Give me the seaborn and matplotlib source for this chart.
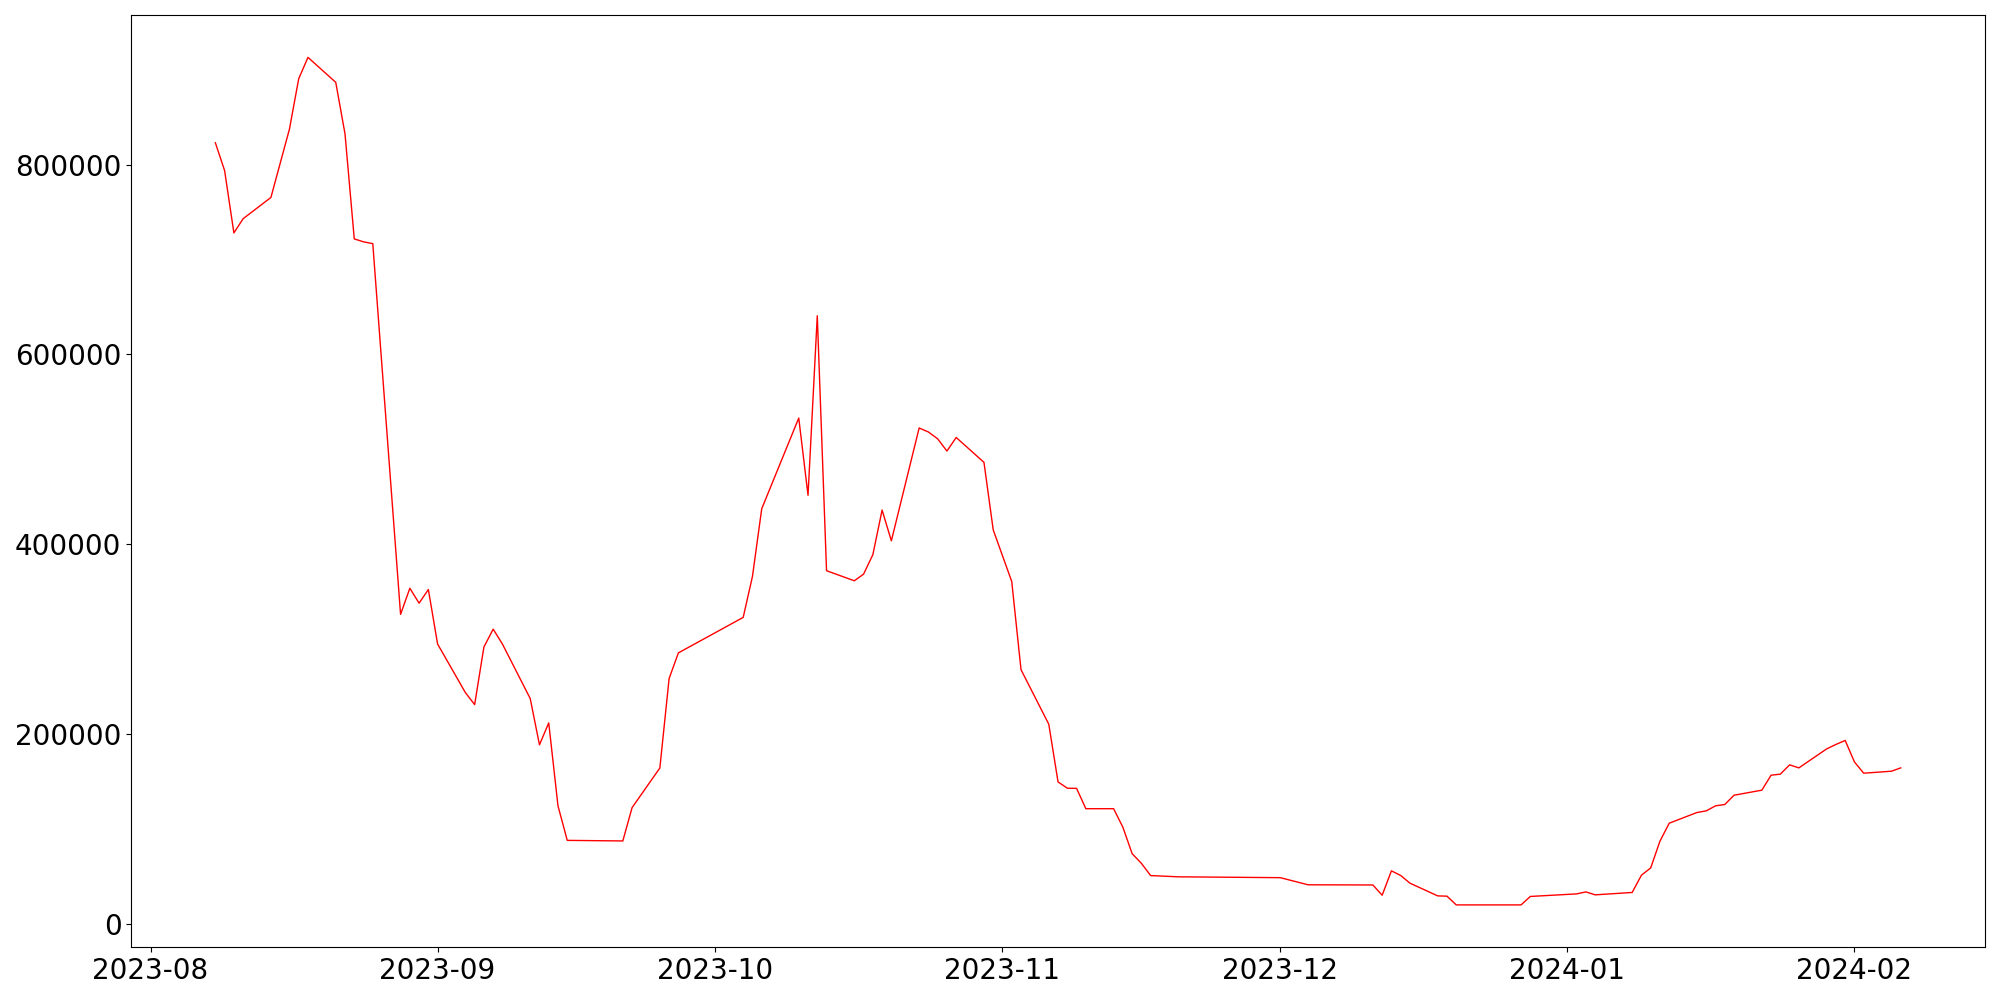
import pandas as pd
import matplotlib
matplotlib.use("Agg")
import matplotlib.pyplot as plt
import seaborn as sns

# dates and values
dates = [
    "2023-08-08", "2023-08-09", "2023-08-10", "2023-08-11", "2023-08-14",
    "2023-08-16", "2023-08-17", "2023-08-18", "2023-08-21", "2023-08-22",
    "2023-08-23", "2023-08-24", "2023-08-25", "2023-08-28", "2023-08-29",
    "2023-08-30", "2023-08-31", "2023-09-01", "2023-09-04", "2023-09-05",
    "2023-09-06", "2023-09-07", "2023-09-08", "2023-09-11", "2023-09-12",
    "2023-09-13", "2023-09-14", "2023-09-15", "2023-09-21", "2023-09-22",
    "2023-09-25", "2023-09-26", "2023-09-27", "2023-10-04", "2023-10-05",
    "2023-10-06", "2023-10-10", "2023-10-11", "2023-10-12", "2023-10-13",
    "2023-10-16", "2023-10-17", "2023-10-18", "2023-10-19", "2023-10-20",
    "2023-10-23", "2023-10-24", "2023-10-25", "2023-10-26", "2023-10-27",
    "2023-10-30", "2023-10-31", "2023-11-02", "2023-11-03", "2023-11-06",
    "2023-11-07", "2023-11-08", "2023-11-09", "2023-11-10", "2023-11-13",
    "2023-11-14", "2023-11-15", "2023-11-16", "2023-11-17", "2023-11-20",
    "2023-12-01", "2023-12-04", "2023-12-11", "2023-12-12", "2023-12-13",
    "2023-12-14", "2023-12-15", "2023-12-18", "2023-12-19", "2023-12-20",
    "2023-12-27", "2023-12-28", "2024-01-02", "2024-01-03", "2024-01-04",
    "2024-01-08", "2024-01-09", "2024-01-10", "2024-01-11", "2024-01-12",
    "2024-01-15", "2024-01-16", "2024-01-17", "2024-01-18", "2024-01-19",
    "2024-01-22", "2024-01-23", "2024-01-24", "2024-01-25", "2024-01-26",
    "2024-01-29", "2024-01-30", "2024-01-31", "2024-02-01", "2024-02-02",
    "2024-02-05", "2024-02-06",
]

values = [
    823000, 793600, 728000, 743000, 765400,
    837400, 890500, 913000, 886700, 832400,
    721700, 718600, 716700, 326000, 353500,
    337800, 352200, 294700, 243500, 230900,
    291600, 310400, 294700, 237300, 188500,
    211600, 124100, 87800, 87200, 122300,
    164100, 258400, 285400, 322800, 366000,
    437300, 532900, 451500, 640700, 372000,
    361400, 368400, 388900, 435900, 403500,
    522400, 518200, 511000, 498100, 512400,
    486200, 415000, 360600, 267700, 210200,
    149400, 142800, 142600, 121200, 121200,
    101700, 73800, 63600, 50700, 49400,
    48500, 41000, 40800, 30000, 55700,
    50800, 42700, 29300, 29000, 19800,
    19800, 28700, 31400, 33500, 30400,
    32900, 51100, 58800, 87000, 105900,
    117200, 118900, 124200, 125600, 135400,
    140700, 156500, 157600, 167400, 164200,
    184200, 188900, 193100, 170500, 158600,
    160700, 164200,
]

df = pd.DataFrame({"date": pd.to_datetime(dates), "value": values})

fig, ax = plt.subplots(figsize=(20, 10), dpi=100)
sns.lineplot(data=df, x="date", y="value", color="red", linewidth=1, ax=ax)
ax.set_xlabel("")
ax.set_ylabel("")
ax.tick_params(labelsize=20)
plt.tight_layout()
plt.savefig("out.png")
